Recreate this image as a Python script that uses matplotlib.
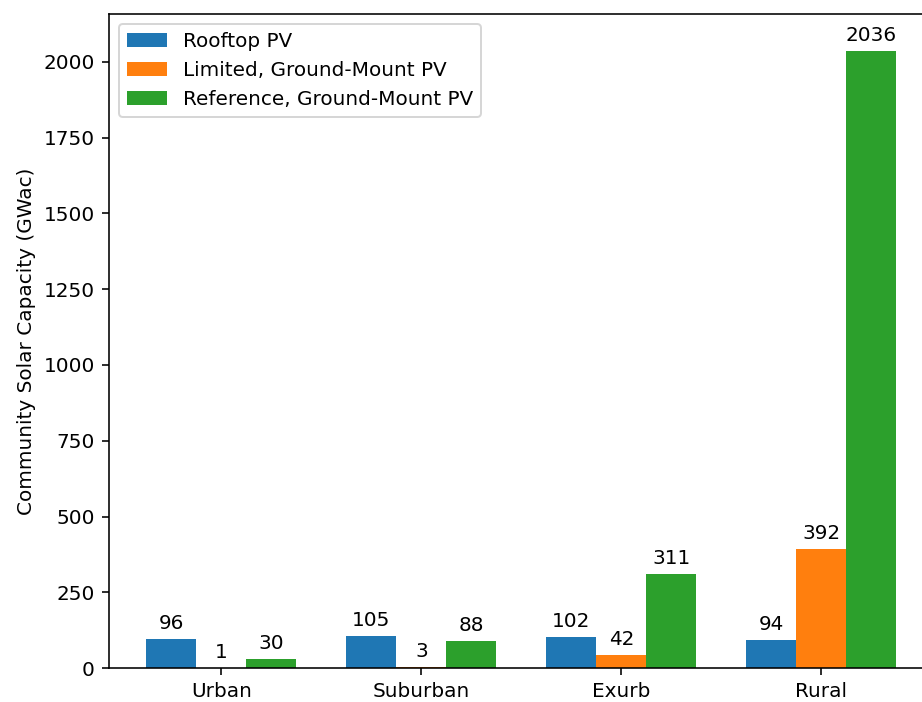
import numpy as np
import matplotlib.pyplot as plt

regions = ["Urban", "Suburban", "Exurb", "Rural"]
rooftop = [96, 105, 102, 94]
limited_ground = [1, 3, 42, 392]
reference_ground = [30, 88, 311, 2036]

x = np.arange(len(regions))
width = 0.25

fig = plt.figure(figsize=(922 / 144, 702 / 144), dpi=144)
# axes runs a little past the right edge of the canvas
ax = fig.add_axes([0.1182, 0.0484, 0.8948, 0.9316])

b1 = ax.bar(x - width, rooftop, width, label="Rooftop PV")
b2 = ax.bar(x, limited_ground, width, label="Limited, Ground-Mount PV")
b3 = ax.bar(x + width, reference_ground, width, label="Reference, Ground-Mount PV")

for bars in (b1, b2, b3):
    ax.bar_label(bars, padding=3)

ax.set_xticks(x)
ax.set_xticklabels(regions)
ax.set_ylim(0, max(reference_ground) * 1.06)
ax.set_ylabel("Community Solar Capacity (GWac)")
ax.legend(loc="upper left")

plt.savefig("out.png", dpi=144)
